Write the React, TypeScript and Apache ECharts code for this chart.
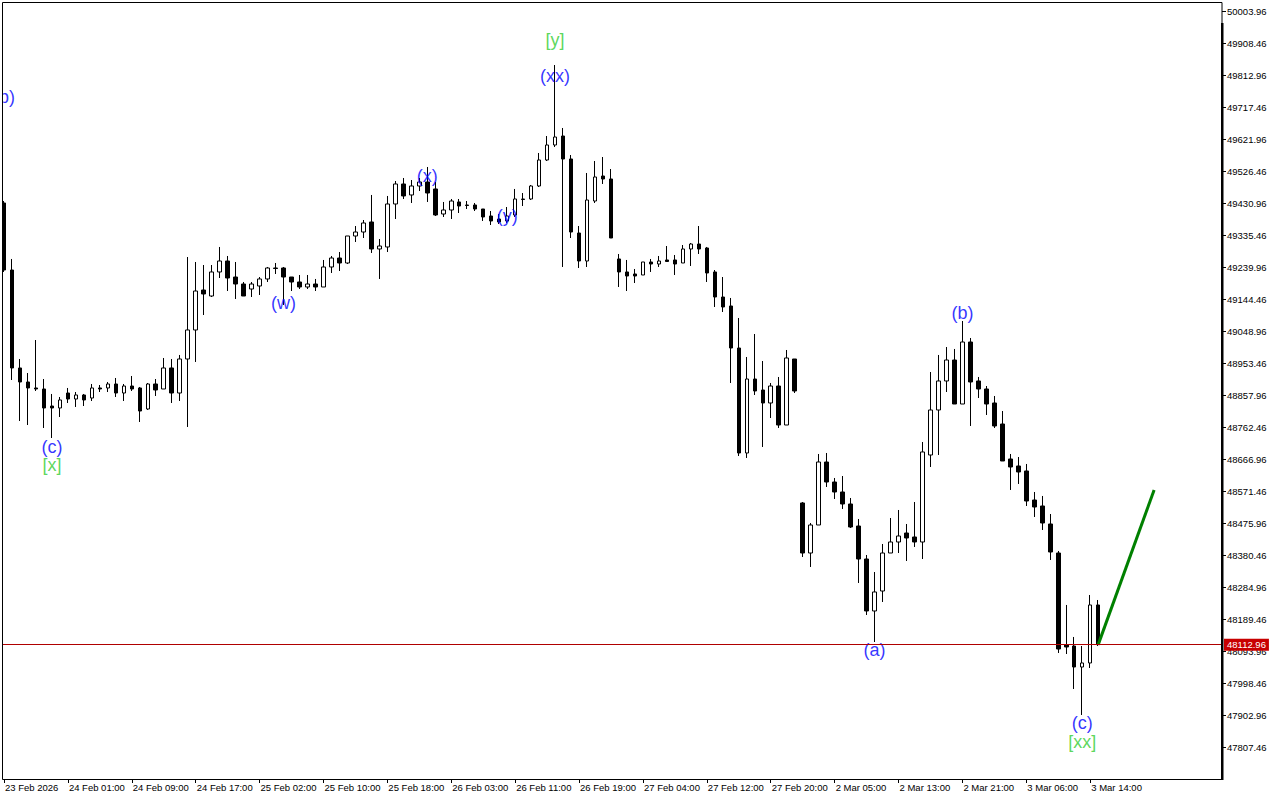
import React, { useEffect, useRef } from "react";
import * as echarts from "echarts";

const tickLabels = [
  "23 Feb 2026", "24 Feb 01:00", "24 Feb 09:00", "24 Feb 17:00", "25 Feb 02:00", "25 Feb 10:00",
  "25 Feb 18:00", "26 Feb 03:00", "26 Feb 11:00", "26 Feb 19:00", "27 Feb 04:00", "27 Feb 12:00",
  "27 Feb 20:00", "2 Mar 05:00", "2 Mar 13:00", "2 Mar 21:00", "3 Mar 06:00", "3 Mar 14:00",
];

const priceTicks = [
  50003.96, 49908.46, 49812.96, 49717.46, 49621.96, 49526.46, 49430.96, 49335.46, 49239.96, 49144.46,
  49048.96, 48953.46, 48857.96, 48762.46, 48666.96, 48571.46, 48475.96, 48380.46, 48284.96, 48189.46,
  48093.96, 47998.46, 47902.96, 47807.46,
];

const opens = [
  49431.0, 49231.0, 48938.6, 48896.8, 48878.9, 48875.9, 48825.1, 48819.2, 48863.9, 48846.0,
  48858.0, 48849.0, 48878.9, 48878.9, 48890.8, 48863.9, 48884.8, 48878.9, 48816.2, 48890.8,
  48875.9, 48938.6, 48863.9, 48965.4, 49052.0, 49171.3, 49153.4, 49225.1, 49257.9, 49210.1,
  49189.2, 49174.3, 49183.3, 49204.2, 49237.0, 49237.0, 49210.1, 49195.2, 49180.3, 49189.2,
  49180.3, 49240.0, 49266.8, 49251.9, 49332.5, 49344.4, 49374.3, 49293.7, 49299.7, 49428.0,
  49487.7, 49454.9, 49481.7, 49493.6, 49472.8, 49398.1, 49410.1, 49434.0, 49425.0, 49425.0,
  49413.1, 49392.2, 49383.2, 49377.3, 49395.2, 49442.9, 49442.9, 49481.7, 49559.3, 49604.1,
  49630.9, 49562.3, 49341.4, 49257.9, 49436.9, 49511.5, 49502.6, 49263.9, 49225.1, 49219.1,
  49216.1, 49254.9, 49248.9, 49260.9, 49260.9, 49251.9, 49293.7, 49308.6, 49296.7, 49225.1,
  49150.4, 49123.6, 48998.2, 48684.9, 48905.7, 48872.9, 48834.1, 48884.8, 48768.4, 48965.4,
  48535.7, 48386.4, 48470.0, 48658.0, 48598.3, 48568.5, 48532.7, 48467.0, 48368.5, 48213.4,
  48273.0, 48386.4, 48419.3, 48446.1, 48434.2, 48419.3, 48678.9, 48813.2, 48899.8, 48962.4,
  48831.1, 49016.1, 48899.8, 48875.9, 48834.1, 48771.4, 48667.0, 48646.1, 48631.2, 48544.6,
  48526.7, 48473.0, 48386.4, 48111.9, 48108.9, 48046.2, 48058.2, 48231.3,
];

const closes = [
  49231.0, 48938.6, 48896.8, 48878.9, 48875.9, 48819.2, 48819.2, 48843.1, 48846.0, 48858.0,
  48843.1, 48878.9, 48875.9, 48890.8, 48863.9, 48884.8, 48875.9, 48810.2, 48890.8, 48872.9,
  48938.6, 48863.9, 48965.4, 49052.0, 49168.3, 49159.4, 49225.1, 49257.9, 49207.1, 49189.2,
  49153.4, 49189.2, 49204.2, 49237.0, 49235.5, 49210.1, 49195.2, 49180.3, 49189.2, 49180.3,
  49240.0, 49266.8, 49251.9, 49332.5, 49344.4, 49371.3, 49293.7, 49302.6, 49428.0, 49487.7,
  49451.9, 49481.7, 49493.6, 49460.8, 49395.2, 49410.1, 49436.9, 49422.0, 49423.5, 49413.1,
  49389.2, 49377.3, 49374.3, 49392.2, 49442.9, 49441.4, 49481.7, 49559.3, 49604.1, 49627.9,
  49562.3, 49344.4, 49257.9, 49439.9, 49508.6, 49502.6, 49326.5, 49225.1, 49213.1, 49213.1,
  49254.9, 49248.9, 49257.9, 49256.4, 49248.9, 49293.7, 49308.6, 49293.7, 49222.1, 49150.4,
  49120.6, 48998.2, 48684.9, 48905.7, 48869.9, 48834.1, 48884.8, 48768.4, 48968.4, 48869.9,
  48386.4, 48470.0, 48658.0, 48598.3, 48568.5, 48532.7, 48464.0, 48368.5, 48213.4, 48270.1,
  48386.4, 48419.3, 48437.2, 48431.2, 48419.3, 48687.9, 48813.2, 48899.8, 48962.4, 48831.1,
  49016.1, 48896.8, 48875.9, 48831.1, 48765.5, 48661.0, 48643.1, 48628.2, 48541.6, 48523.7,
  48476.0, 48389.4, 48099.9, 48105.9, 48046.2, 48058.2, 48231.3, 48112.96,
];

const lows = [
  49225.1, 48902.7, 48780.4, 48768.4, 48869.9, 48759.5, 48729.6, 48792.3, 48834.1, 48822.2,
  48825.1, 48840.1, 48866.9, 48866.9, 48852.0, 48840.1, 48869.9, 48777.4, 48813.2, 48855.0,
  48875.9, 48834.1, 48840.1, 48762.5, 48956.5, 49096.7, 49150.4, 49207.1, 49168.3, 49144.5,
  49153.4, 49150.4, 49156.4, 49195.2, 49219.1, 49126.6, 49168.3, 49174.3, 49174.3, 49168.3,
  49180.3, 49222.1, 49228.0, 49248.9, 49314.6, 49326.5, 49281.8, 49204.2, 49284.7, 49383.2,
  49442.9, 49431.0, 49466.8, 49434.0, 49392.2, 49389.2, 49383.2, 49401.1, 49413.1, 49407.1,
  49377.3, 49365.3, 49368.3, 49371.3, 49389.2, 49422.0, 49439.9, 49478.7, 49556.3, 49598.1,
  49240.0, 49326.5, 49237.0, 49240.0, 49431.0, 49487.7, 49326.5, 49180.3, 49168.3, 49192.2,
  49216.1, 49225.1, 49240.0, 49254.9, 49216.1, 49251.9, 49243.0, 49278.8, 49195.2, 49120.6,
  49105.7, 48893.8, 48675.9, 48670.0, 48858.0, 48702.8, 48789.3, 48759.5, 48768.4, 48863.9,
  48374.5, 48344.7, 48470.0, 48583.4, 48547.6, 48517.8, 48461.1, 48296.9, 48201.4, 48120.8,
  48240.2, 48386.4, 48386.4, 48362.6, 48404.4, 48368.5, 48643.1, 48678.9, 48866.9, 48831.1,
  48831.1, 48765.5, 48849.0, 48798.3, 48759.5, 48661.0, 48574.5, 48592.4, 48526.7, 48493.9,
  48455.1, 48365.6, 48088.0, 48085.0, 47980.6, 47903.0, 48043.2, 48108.9,
];

const highs = [
  49436.9, 49263.9, 48965.4, 48923.6, 49022.1, 48905.7, 48861.0, 48852.0, 48878.9, 48866.9,
  48861.0, 48890.8, 48887.8, 48896.8, 48908.7, 48890.8, 48914.7, 48881.9, 48893.8, 48905.7,
  48968.4, 48965.4, 48977.4, 49269.8, 49254.9, 49245.9, 49245.9, 49299.7, 49272.8, 49254.9,
  49195.2, 49195.2, 49210.1, 49240.0, 49251.9, 49240.0, 49210.1, 49216.1, 49216.1, 49204.2,
  49260.9, 49272.8, 49284.7, 49332.5, 49362.3, 49380.2, 49454.9, 49323.5, 49451.9, 49496.6,
  49505.6, 49499.6, 49505.6, 49538.4, 49493.6, 49434.0, 49442.9, 49442.9, 49436.9, 49431.0,
  49413.1, 49407.1, 49398.1, 49419.0, 49472.8, 49460.8, 49484.7, 49580.2, 49630.9, 49842.8,
  49654.8, 49574.2, 49362.3, 49520.5, 49556.3, 49568.2, 49532.4, 49278.8, 49260.9, 49234.0,
  49254.9, 49263.9, 49272.8, 49302.6, 49275.8, 49305.6, 49311.6, 49362.3, 49299.7, 49231.0,
  49210.1, 49147.5, 49087.8, 48971.4, 49040.0, 48959.4, 48893.8, 48911.7, 48992.3, 48965.4,
  48538.6, 48476.0, 48681.9, 48684.9, 48610.3, 48616.2, 48550.6, 48487.9, 48380.5, 48329.7,
  48413.3, 48490.9, 48514.8, 48473.0, 48538.6, 48717.7, 48926.6, 48977.4, 49001.2, 48995.3,
  49078.8, 49028.1, 48911.7, 48884.8, 48855.0, 48810.2, 48681.9, 48672.9, 48652.1, 48568.5,
  48556.6, 48502.8, 48392.4, 48231.3, 48135.8, 48108.9, 48261.1, 48246.2,
];

const currentPrice = 48112.96;
const projectionIdx = [137, 144];
const projectionPrices = [48112.96, 48574.5];

const waveNames = ["(b)", "(c)", "[x]", "(w)", "(x)", "(y)", "(xx)", "[y]", "(a)", "(b)", "(c)", "[xx]"];
const waveIdx = [0, 6, 6, 35, 53, 63, 69, 69, 109, 120, 135, 135];
const wavePrices = [49747.3, 48702.8, 48649.1, 49132.5, 49511.5, 49392.2, 49810.0, 49917.4, 48096.9, 49102.7, 47879.1, 47822.4];

const SLOTS = 153;
const Y_MIN = 47711.96;
const Y_MAX = 50030.82;

const FONT = '"Liberation Sans", Arial, sans-serif';

export default function App() {
  const ref = useRef<HTMLDivElement>(null);
  useEffect(() => {
    document.body.style.margin = "0";
    const chart = echarts.init(ref.current!, null, { renderer: "svg" });
    const categories = Array.from({ length: SLOTS }, (_, i) => String(i));
    const candleData = opens.map((o, i) => [o, closes[i], lows[i], highs[i]]);
    const showTick = (i: number) => i % 8 === 0 && i <= 136;
    const waveData = waveNames.map((n, i) => ({
      name: n,
      value: [waveIdx[i], wavePrices[i]],
      label: { color: n.startsWith("[") ? "#32cd32" : "#0000ff" },
    }));
    chart.setOption({
      animation: false,
      backgroundColor: "#ffffff",
      tooltip: { show: false },
      grid: { left: -2, top: 2, right: 58, bottom: 21, containLabel: false },
      xAxis: {
        type: "category",
        data: categories,
        boundaryGap: true,
        axisLine: { show: false },
        axisTick: {
          show: true,
          alignWithLabel: true,
          interval: (i: number) => showTick(i),
          length: 4,
          lineStyle: { color: "#000", width: 1 },
        },
        axisLabel: {
          interval: (i: number) => showTick(i),
          formatter: (_v: string, i: number) => tickLabels[i / 8] ?? "",
          align: "left",
          margin: 3,
          fontSize: 9.5,
          fontFamily: FONT,
          color: "#000",
          padding: [0, 0, 0, 1],
        },
        splitLine: { show: false },
      },
      yAxis: {
        type: "value",
        position: "right",
        min: Y_MIN,
        max: Y_MAX,
        axisLine: { show: false },
        axisTick: {
          show: true,
          customValues: priceTicks,
          length: 4,
          lineStyle: { color: "#000", width: 1 },
        },
        axisLabel: {
          customValues: priceTicks,
          formatter: (v: number) => v.toFixed(2),
          margin: 5,
          fontSize: 9.5,
          fontFamily: FONT,
          color: "#000",
        },
        splitLine: { show: false },
      },
      series: [
        {
          type: "candlestick",
          data: candleData,
          barWidth: 4,
          itemStyle: {
            color: "#ffffff",
            color0: "#000000",
            borderColor: "#000000",
            borderColor0: "#000000",
            borderColorDoji: "#000000",
            borderWidth: 1,
          },
          emphasis: { disabled: true },
          markLine: {
            silent: true,
            symbol: ["none", "none"],
            lineStyle: { color: "#b00000", width: 1, type: "solid" },
            label: {
              show: true,
              position: "end",
              distance: 2,
              formatter: currentPrice.toFixed(2),
              color: "#ffffff",
              backgroundColor: "#c80000",
              padding: [1, 3, 1, 3],
              fontSize: 9.5,
              fontFamily: FONT,
            },
            data: [{ yAxis: currentPrice }],
            z: 10,
          },
        },
        {
          type: "line",
          data: projectionIdx.map((x, i) => [x, projectionPrices[i]]),
          symbol: "none",
          lineStyle: { color: "#008000", width: 3 },
          z: 5,
        },
        {
          type: "scatter",
          data: waveData,
          symbolSize: 1,
          itemStyle: { color: "rgba(0,0,0,0)" },
          label: {
            show: true,
            position: "inside",
            formatter: "{b}",
            fontSize: 18,
            fontFamily: 'Arial, "Liberation Sans", sans-serif',
          },
          emphasis: { disabled: true },
          z: 6,
        },
      ],
      graphic: [
        { type: "rect", z: 100, shape: { x: 0, y: 0, width: 2.5, height: 780 }, style: { fill: "#ffffff" } },
        {
          type: "rect",
          z: 101,
          shape: { x: 2.5, y: 2.5, width: 1219.5, height: 777 },
          style: { fill: "none", stroke: "#000000", lineWidth: 1 },
        },
        { type: "rect", z: 101, shape: { x: 1221, y: 23, width: 2.5, height: 757 }, style: { fill: "#000000" } },
      ],
    });
    return () => chart.dispose();
  }, []);
  return (
    <div
      ref={ref}
      style={{ position: "absolute", left: 0, top: 0, width: 1280, height: 800, background: "#ffffff" }}
    />
  );
}
